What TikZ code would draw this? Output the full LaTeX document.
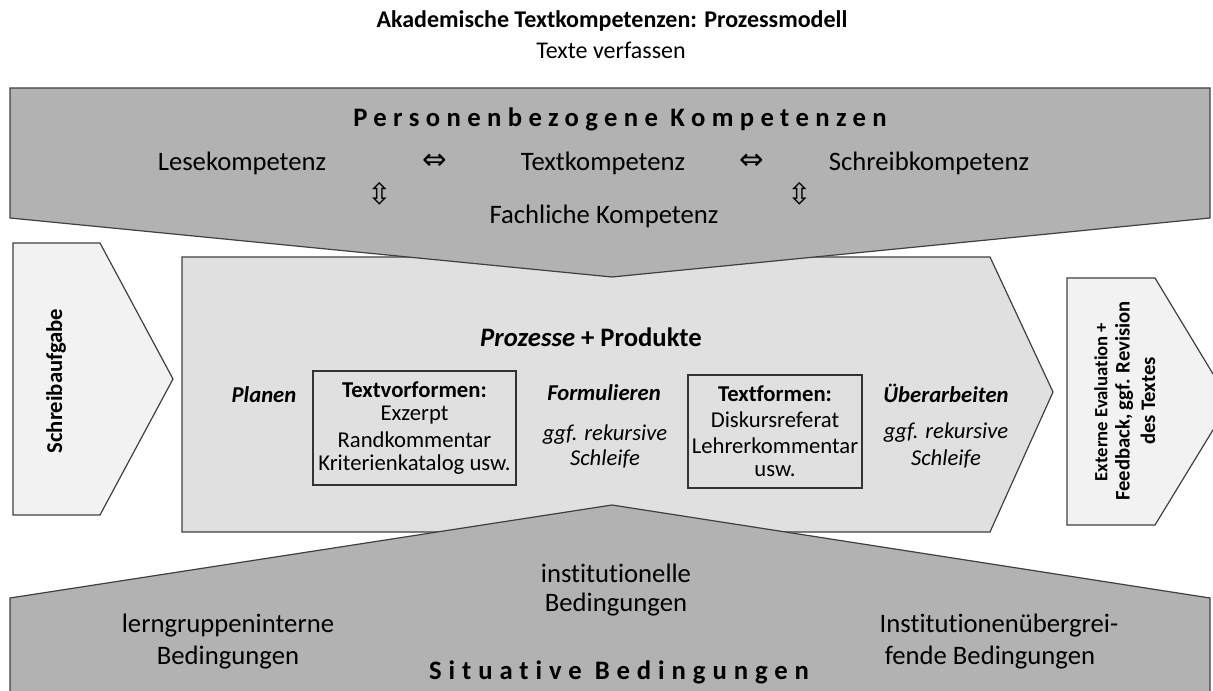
\documentclass[tikz,border=0pt]{standalone}
\usepackage{fontspec}
\setmainfont{Carlito}[Ligatures=NoCommon]
\newfontfamily\symf{DejaVu Sans}
\begin{document}
\begin{tikzpicture}[x=0.75pt,y=-0.75pt,
  shp/.style={draw=black!75, line width=0.9pt, line join=miter},
  dark/.style={shp, fill=black!30},
  mid/.style={shp, fill=black!12},
  light/.style={shp, fill=black!5},
  frame/.style={draw=black!80, line width=0.9pt},
  big/.style={inner sep=0, font=\fontsize{20}{24}\selectfont},
  med/.style={inner sep=0, font=\fontsize{17}{20}\selectfont, align=center},
  sym/.style={inner sep=0, font=\symf\fontsize{22}{24}\selectfont}]
\clip (0,0) rectangle (1213,691);
% title
\node[inner sep=0, font=\bfseries\fontsize{18}{21}\selectfont] (title) at (612,21) {Akademische Textkompetenzen: Prozessmodell};
\node[inner sep=0, font=\fontsize{18}{21}\selectfont] (subtitle) at (611,50) {Texte verfassen};
% shapes
\draw[light] (13,243) -- (100,243) -- (173,379) -- (100,515) -- (13,515) -- cycle;
\draw[light] (1067,278) -- (1155,278) -- (1230,402) -- (1155,525) -- (1067,525) -- cycle;
\draw[mid] (182,257) -- (990,257) -- (1053,392) -- (990,532) -- (182,532) -- cycle;
\draw[dark] (10,88) -- (1210,88) -- (1210,218) -- (612,277) -- (10,218) -- cycle;
\draw[dark] (10,598) -- (612,505) -- (1210,598) -- (1210,700) -- (10,700) -- cycle;
% top texts
\node[big, font=\bfseries\fontsize{20}{24}\selectfont\addfontfeature{LetterSpace=24}] (pk) at (620,119) {Personenbezogene Kompetenzen};
\node[big] (lese) at (242,163) {Lesekompetenz};
\node[sym] (a1) at (434.5,162) {⇔};
\node[big] (text) at (603,163) {Textkompetenz};
\node[sym] (a2) at (751.5,162) {⇔};
\node[big] (schreib) at (929,163) {Schreibkompetenz};
\node[sym] (a3) at (380,194) {⇳};
\node[sym] (a4) at (800,194) {⇳};
\node[big] (fach) at (604,216) {Fachliche Kompetenz};
% middle
\node[big] (pp) at (591,337) {\textbf{\textit{Prozesse}} \textbf{+ Produkte}};
\node[med, font=\bfseries\itshape\fontsize{17}{20}\selectfont] (planen) at (264,395) {Planen};
\draw[frame] (313,371) rectangle (516,485);
\node[med] (tv1) at (414.5,390) {\textbf{Textvorformen:}};
\node[med] (tv2) at (414.5,415) {Exzerpt};
\node[med] (tv3) at (414.5,440) {Randkommentar};
\node[med] (tv4) at (414.5,465) {Kriterienkatalog usw.};
\node[med, font=\bfseries\itshape\fontsize{17}{20}\selectfont] (form) at (604,393) {Formulieren};
\node[med, font=\itshape\fontsize{17}{20}\selectfont] (form1) at (605,435) {ggf. rekursive};
\node[med, font=\itshape\fontsize{17}{20}\selectfont] (form2) at (605,459) {Schleife};
\draw[frame] (688,375) rectangle (862,488);
\node[med] (tf1) at (775,394) {\textbf{Textformen:}};
\node[med] (tf2) at (775,420) {Diskursreferat};
\node[med] (tf3) at (775,446) {Lehrerkommentar};
\node[med] (tf4) at (775,471) {usw.};
\node[med, font=\bfseries\itshape\fontsize{17}{20}\selectfont] (ueb) at (946,393) {Überarbeiten};
\node[med, font=\itshape\fontsize{17}{20}\selectfont] (ueb1) at (946,433) {ggf. rekursive};
\node[med, font=\itshape\fontsize{17}{20}\selectfont] (ueb2) at (946,459) {Schleife};
% side arrows
\node[inner sep=0, rotate=90, font=\bfseries\fontsize{17}{20}\selectfont] (sa) at (56,381) {Schreibaufgabe};
\node[inner sep=0, rotate=90, font=\bfseries\fontsize{14}{16}\selectfont] (ev1) at (1101,402) {Externe Evaluation +};
\node[inner sep=0, rotate=90, font=\bfseries\fontsize{15.5}{18}\selectfont] (ev2) at (1124,401) {Feedback, ggf. Revision};
\node[inner sep=0, rotate=90, font=\bfseries\fontsize{15.5}{18}\selectfont] (ev3) at (1148,401) {des Textes};
% bottom texts
\node[big] (inst1) at (616,573) {institutionelle};
\node[big] (inst2) at (616,605) {Bedingungen};
\node[big] (lern1) at (228,626) {lerngruppeninterne};
\node[big] (lern2) at (228,658) {Bedingungen};
\node[big] (ueg1) at (999,626) {Institutionenübergrei-};
\node[big] (ueg2) at (990,658) {fende Bedingungen};
\node[big, font=\bfseries\fontsize{20}{24}\selectfont\addfontfeature{LetterSpace=26}] (sb) at (619,672) {Situative Bedingungen};
\end{tikzpicture}
\end{document}
